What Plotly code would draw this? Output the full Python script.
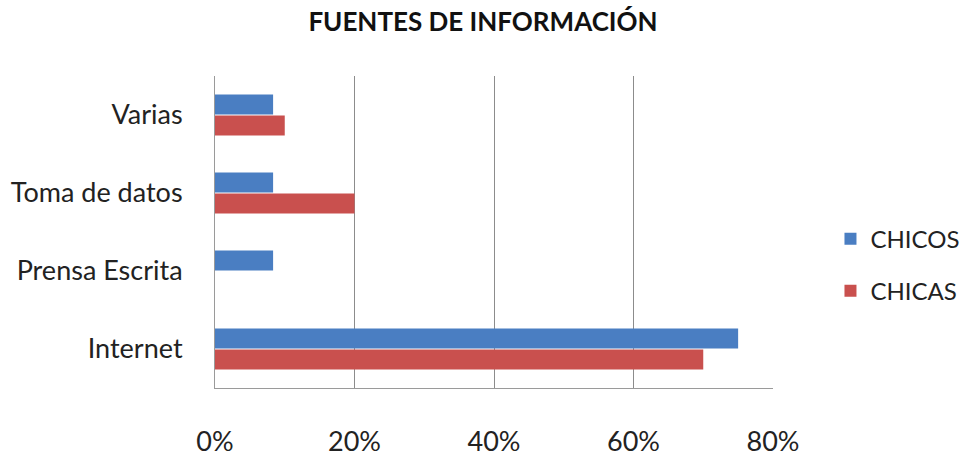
import plotly.graph_objects as go

categories = ["Internet", "Prensa Escrita", "Toma de datos", "Varias"]
chicos = [0.75, 0.0833, 0.0833, 0.0833]
chicas = [0.70, 0.0, 0.20, 0.10]
x_ticks = [0, 0.2, 0.4, 0.6, 0.8]
x_tick_labels = ["0%", "20%", "40%", "60%", "80%"]

FONT = "Lato"

fig = go.Figure()
fig.add_trace(go.Bar(
    y=categories, x=chicas, name="CHICAS", orientation="h",
    marker=dict(color="#C9504E", line=dict(color="#8E2F2D", width=0)),
    legendgroup="b", legendrank=2,
))
fig.add_trace(go.Bar(
    y=categories, x=chicos, name="CHICOS", orientation="h",
    marker=dict(color="#4A7EC2", line=dict(color="#2D5A94", width=0)),
    legendgroup="a", legendrank=1,
))

fig.update_layout(
    width=966, height=472,
    margin=dict(l=215, r=193, t=76, b=84, autoexpand=False),
    paper_bgcolor="white", plot_bgcolor="white",
    font=dict(family=FONT, size=26, color="#222222"),
    title=dict(text="<b>FUENTES DE INFORMACIÓN</b>", x=0.5, xanchor="center",
               y=0.953, yanchor="middle", font=dict(family=FONT, size=26, color="#111111")),
    barmode="group", bargap=0.46, bargroupgap=0.05,
    showlegend=True,
    legend=dict(x=1.103, xanchor="left", y=0.394, yanchor="middle",
                font=dict(size=24, family=FONT), tracegroupgap=18,
                itemwidth=30,
                bgcolor="rgba(0,0,0,0)"),
    xaxis=dict(range=[0, 0.8], tickvals=x_ticks, ticktext=x_tick_labels,
               showgrid=True, gridcolor="#8C8C8C", gridwidth=1,
               showline=True, linecolor="#9A9A9A", linewidth=1, mirror=False,
               zeroline=False, ticks="", ticklabelstandoff=30,
               tickfont=dict(size=27, family=FONT)),
    yaxis=dict(range=[-0.5, 3.5], showgrid=False, showline=True,
               linecolor="#9A9A9A", linewidth=1, ticks="",
               ticklabelstandoff=26, tickfont=dict(size=27, family=FONT)),
)

fig.write_html("out.html")
